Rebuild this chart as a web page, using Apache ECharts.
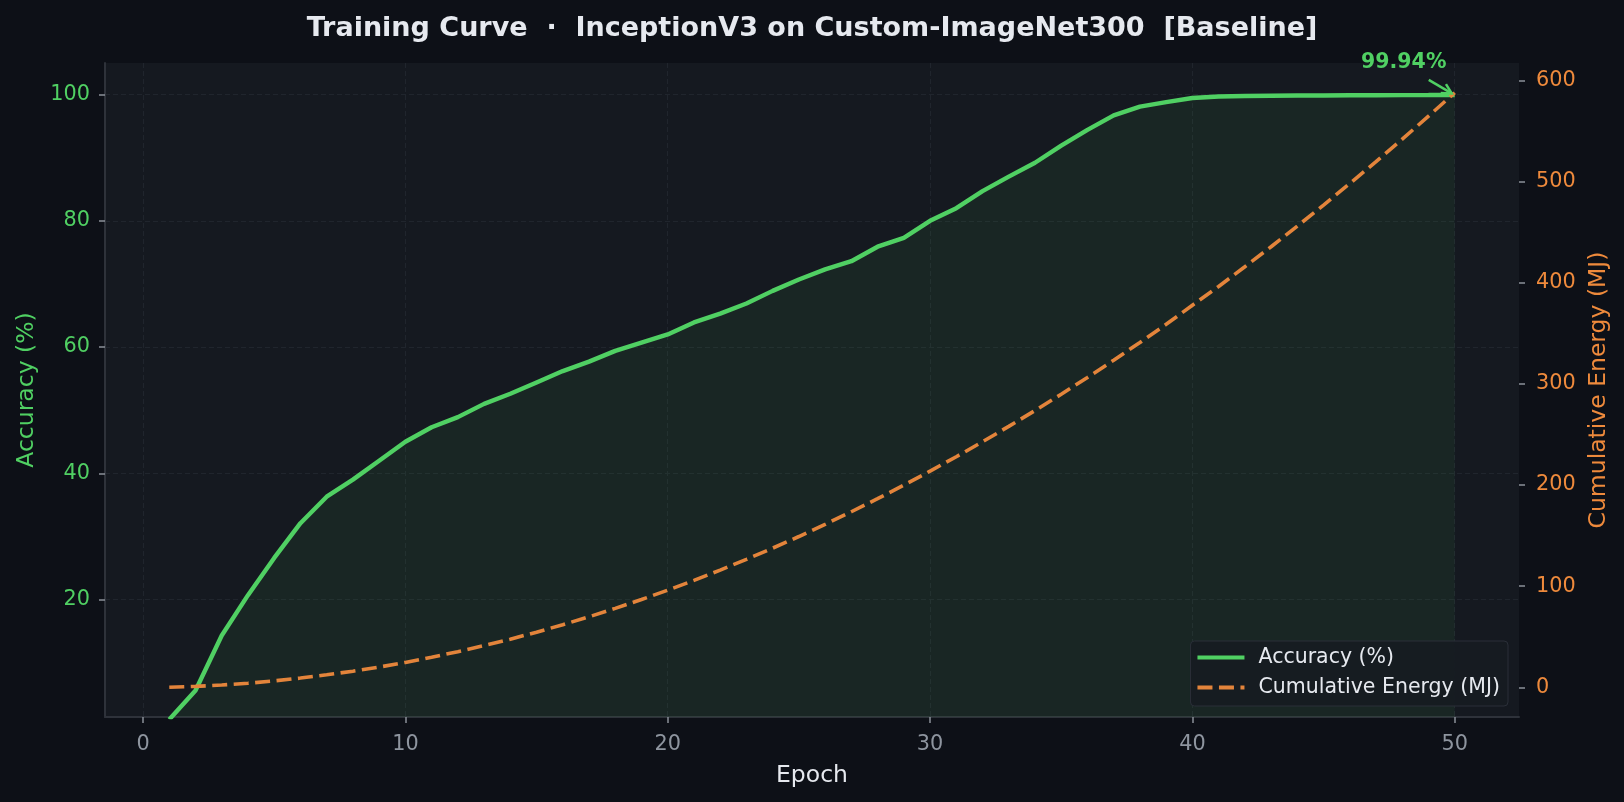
<!DOCTYPE html>
<html>
<head>
<meta charset="utf-8">
<title>Training Curve</title>
<script src="https://cdn.jsdelivr.net/npm/echarts@6/dist/echarts.min.js"></script>
<style>
  html, body { margin: 0; padding: 0; background: #0d1017; }
  #chart { width: 1624px; height: 802px; }
</style>
</head>
<body>
<div id="chart"></div>
<script>
// data
var epochs = [1, 2, 3, 4, 5, 6, 7, 8, 9, 10,
  11, 12, 13, 14, 15, 16, 17, 18, 19, 20,
  21, 22, 23, 24, 25, 26, 27, 28, 29, 30,
  31, 32, 33, 34, 35, 36, 37, 38, 39, 40,
  41, 42, 43, 44, 45, 46, 47, 48, 49, 50]

var accuracy = [1.0, 5.6, 14.3, 20.7, 26.6, 32.1, 36.3, 39.0, 42.0, 45.0,
  47.3, 48.9, 51.0, 52.6, 54.4, 56.2, 57.7, 59.4, 60.7, 62.0,
  63.9, 65.3, 66.9, 68.9, 70.7, 72.3, 73.6, 75.9, 77.3, 80.0,
  82.0, 84.7, 87.0, 89.2, 91.9, 94.4, 96.7, 98.1, 98.8, 99.45,
  99.7, 99.78, 99.82, 99.85, 99.86, 99.88, 99.9, 99.91, 99.92, 99.94]

var energy = [0.0, 0.9, 2.2, 4.0, 6.3, 9.1, 12.3, 15.9, 20.0, 24.6,
  29.7, 35.2, 41.2, 47.6, 54.5, 61.9, 69.7, 78.0, 86.8, 96.0,
  105.7, 115.9, 126.5, 137.6, 149.1, 161.1, 173.6, 186.5, 199.9, 213.8,
  228.0, 242.8, 258.0, 273.7, 289.8, 306.4, 323.5, 341.0, 359.0, 377.8,
  396.4, 415.9, 435.7, 456.1, 476.9, 498.2, 519.9, 542.1, 564.8, 588.0]

var xTicks = [0, 10, 20, 30, 40, 50]
var accTicks = [20, 40, 60, 80, 100]
var energyTicks = [0, 100, 200, 300, 400, 500, 600]

var finalLabel = '99.94%'

var COLORS = {
  page: '#0d1017',
  plot: '#151920',
  green: '#50d063',
  orange: '#e3843b',
  orangeText: '#ee8a3c',
  tick: '#8b9099',
  xText: '#8e959f',
  text: '#e6e9ef',
  spine: '#2e323a',
  grid: '#20252d'
}

var FONT = 'DejaVu Sans'

var chart = echarts.init(document.getElementById('chart'))

var option = {
  backgroundColor: COLORS.page,
  animation: false,
  textStyle: { fontFamily: FONT },
  title: {
    text: 'Training Curve  ·  InceptionV3 on Custom-ImageNet300  [Baseline]',
    left: 'center',
    top: 15,
    padding: 0,
    textStyle: { color: COLORS.text, fontSize: 27, fontWeight: 'bold', fontFamily: FONT }
  },
  grid: {
    left: 105,
    right: 105,
    top: 63,
    bottom: 85,
    show: true,
    backgroundColor: COLORS.plot,
    borderWidth: 0
  },
  legend: {
    orient: 'vertical',
    right: 116,
    bottom: 96,
    padding: [6, 8, 8, 5],
    itemGap: 9,
    itemWidth: 47,
    itemHeight: 14,
    backgroundColor: 'rgba(22,27,34,0.95)',
    borderColor: '#2a2f38',
    borderWidth: 1,
    borderRadius: 4,
    itemStyle: { opacity: 0 },
    lineStyle: { width: 4 },
    textStyle: { color: COLORS.text, fontSize: 20.5, fontFamily: FONT, padding: [0, 0, 0, 9] },
    data: ['Accuracy (%)', 'Cumulative Energy (MJ)']
  },
  xAxis: {
    type: 'value',
    min: -1.45,
    max: 52.45,
    name: 'Epoch',
    nameLocation: 'middle',
    nameGap: 47,
    nameTextStyle: { color: COLORS.text, fontSize: 23.5, fontFamily: FONT },
    axisLine: { show: true, onZero: false, lineStyle: { color: COLORS.spine, width: 2 } },
    axisTick: { show: true, length: 6, customValues: xTicks, lineStyle: { color: COLORS.tick, width: 1.5 } },
    axisLabel: { customValues: xTicks, color: COLORS.xText, fontSize: 20.8, margin: 17 },
    splitLine: { show: true, lineStyle: { color: COLORS.grid, type: [5, 3], width: 1.2 } }
  },
  yAxis: [
    {
      type: 'value',
      position: 'left',
      min: 1.4,
      max: 105,
      name: 'Accuracy (%)',
      nameLocation: 'middle',
      nameRotate: 90,
      nameGap: 66,
      nameTextStyle: { color: COLORS.green, fontSize: 23.5, fontFamily: FONT },
      axisLine: { show: true, onZero: false, lineStyle: { color: COLORS.spine, width: 2 } },
      axisTick: { show: true, length: 6, customValues: accTicks, lineStyle: { color: COLORS.tick, width: 1.5 } },
      axisLabel: { customValues: accTicks, color: COLORS.green, fontSize: 20.8, margin: 15 },
      splitLine: { show: true, lineStyle: { color: COLORS.grid, type: [5, 3], width: 1.2 } }
    },
    {
      type: 'value',
      position: 'right',
      min: -29.4,
      max: 617.4,
      name: 'Cumulative Energy (MJ)',
      nameLocation: 'middle',
      nameRotate: 90,
      nameGap: 66,
      nameTextStyle: { color: COLORS.orangeText, fontSize: 23.5, fontFamily: FONT },
      axisLine: { show: false, onZero: false },
      axisTick: { show: true, length: 6, customValues: energyTicks, lineStyle: { color: COLORS.tick, width: 1.5 } },
      axisLabel: { customValues: energyTicks, color: COLORS.orangeText, fontSize: 20.8, margin: 17 },
      splitLine: { show: false }
    }
  ],
  series: [
    {
      name: 'Accuracy (%)',
      type: 'line',
      xAxisIndex: 0,
      yAxisIndex: 0,
      symbol: 'none',
      clip: true,
      data: epochs.map(function (e, i) { return [e, accuracy[i]] }),
      lineStyle: { color: COLORS.green, width: 4.4 },
      itemStyle: { color: COLORS.green },
      areaStyle: { origin: 'start', color: 'rgba(80,208,99,0.10)' },
      z: 3
    },
    {
      name: 'Cumulative Energy (MJ)',
      type: 'line',
      xAxisIndex: 0,
      yAxisIndex: 1,
      symbol: 'none',
      clip: true,
      data: epochs.map(function (e, i) { return [e, energy[i]] }),
      lineStyle: { color: COLORS.orange, width: 3.6, type: [15, 6.5] },
      itemStyle: { color: COLORS.orange },
      z: 4
    }
  ]
}

chart.setOption(option)

// annotation on the last accuracy point
var last = epochs.length - 1
var tip = chart.convertToPixel({ xAxisIndex: 0, yAxisIndex: 0 }, [epochs[last], accuracy[last]])
var start = [tip[0] - 26, tip[1] - 15]
var end = [tip[0] - 3, tip[1] - 1.5]
var dx = end[0] - start[0]
var dy = end[1] - start[1]
var len = Math.sqrt(dx * dx + dy * dy)
var ux = -dx / len
var uy = -dy / len
function headPoint(angle) {
  var c = Math.cos(angle)
  var s = Math.sin(angle)
  return [end[0] + 11 * (ux * c - uy * s), end[1] + 11 * (ux * s + uy * c)]
}
var ang = 28 * Math.PI / 180

chart.setOption({
  graphic: [
    {
      type: 'text',
      x: tip[0] - 51,
      y: tip[1] - 32,
      style: {
        text: finalLabel,
        fill: COLORS.green,
        font: 'bold 20.5px "DejaVu Sans"',
        textAlign: 'center',
        textVerticalAlign: 'middle'
      },
      z: 10
    },
    {
      type: 'polyline',
      shape: { points: [start, end] },
      style: { stroke: COLORS.green, lineWidth: 2.5, fill: null },
      z: 10
    },
    {
      type: 'polyline',
      shape: { points: [headPoint(ang), end, headPoint(-ang)] },
      style: { stroke: COLORS.green, lineWidth: 2.5, fill: null },
      z: 10
    }
  ]
})
</script>
</body>
</html>
